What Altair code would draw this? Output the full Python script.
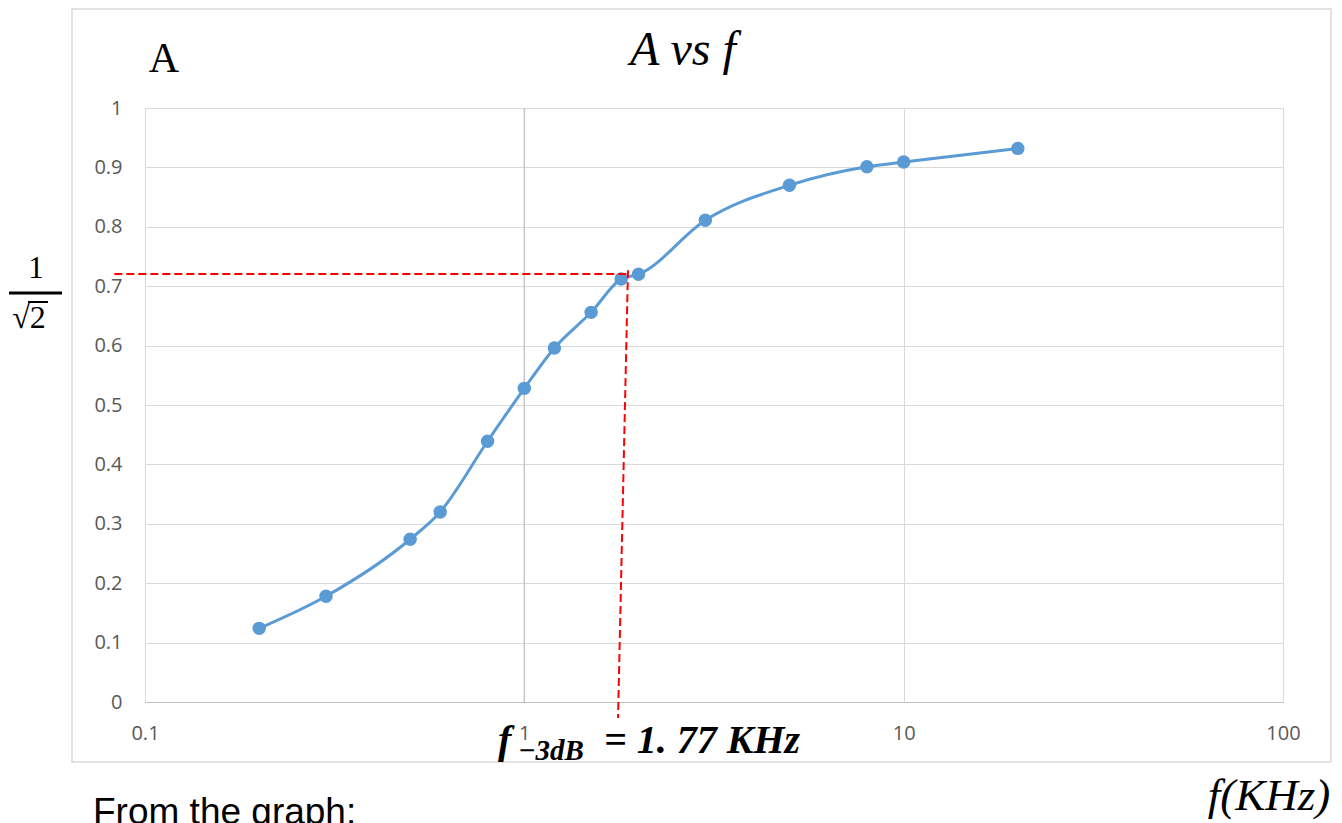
import altair as alt
import pandas as pd

# ---- data ----
freq_khz = [0.2, 0.3, 0.5, 0.6, 0.8, 1.0, 1.2, 1.5, 1.8, 2.0, 3.0, 5.0, 8.0, 10.0, 20.0]
gain = [0.124, 0.178, 0.274, 0.320, 0.439, 0.528, 0.596, 0.656, 0.712, 0.720, 0.811, 0.870, 0.901, 0.909, 0.932]

x_ticks = [0.1, 1, 10, 100]
y_ticks = [0, 0.1, 0.2, 0.3, 0.4, 0.5, 0.6, 0.7, 0.8, 0.9, 1]

# red dashed construction lines (f in kHz, A)
guide_h_f = [0.083, 1.876]
guide_h_a = [0.7205, 0.7205]
guide_v_f = [1.876, 1.766]
guide_v_a = [0.727, -0.027]

emphasised_f = [1.0]

curve = pd.DataFrame({"f": freq_khz, "A": gain})
hline = pd.DataFrame({"f": guide_h_f, "A": guide_h_a, "i": [0, 1]})
vline = pd.DataFrame({"f": guide_v_f, "A": guide_v_a, "i": [0, 1]})
emph = pd.DataFrame({"f": emphasised_f})

BLUE = "#5B9BD5"
RED = "#FF0000"
SERIF = "Liberation Serif"

xscale = alt.Scale(type="log", domain=[0.1, 100], nice=False)
yscale = alt.Scale(domain=[0, 1], nice=False, zero=False)

xax = alt.Axis(values=x_ticks, format="~g", grid=True, gridColor="#D9D9D9",
               domainColor="#BFBFBF", ticks=False, tickSize=0, labelFont="Open Sans",
               labelFontSize=20, labelColor="#595959", labelPadding=31,
               labelBaseline="middle", labelFlush=False, title=None)
yax = alt.Axis(values=y_ticks, format="~g", grid=True, gridColor="#D9D9D9",
               domainColor="#D9D9D9", ticks=False, tickSize=0, labelFont="Open Sans",
               labelFontSize=20, labelColor="#595959", labelPadding=23,
               labelFlush=False, title=None)

one = lambda s: pd.DataFrame({"label": [s]})

border = alt.Chart(one("")).mark_rect(filled=False, stroke="#D9D9D9", strokeWidth=1.5).encode(
    x=alt.value(-73), x2=alt.value(1186), y=alt.value(-99), y2=alt.value(654))

emph_rule = alt.Chart(emph).mark_rule(color="#C6C6C6", strokeWidth=1.5).encode(
    x=alt.X("f:Q", scale=xscale, axis=xax))

line = alt.Chart(curve).mark_line(color=BLUE, strokeWidth=3, interpolate="monotone").encode(
    x=alt.X("f:Q", scale=xscale, axis=xax),
    y=alt.Y("A:Q", scale=yscale, axis=yax))

pts = alt.Chart(curve).mark_circle(color=BLUE, opacity=1, size=180).encode(
    x=alt.X("f:Q", scale=xscale),
    y=alt.Y("A:Q", scale=yscale))

h_guide = alt.Chart(hline).mark_line(color=RED, strokeWidth=2, strokeDash=[8, 4]).encode(
    x=alt.X("f:Q", scale=xscale), y=alt.Y("A:Q", scale=yscale), order="i:Q")
v_guide = alt.Chart(vline).mark_line(color=RED, strokeWidth=2, strokeDash=[8, 4]).encode(
    x=alt.X("f:Q", scale=xscale), y=alt.Y("A:Q", scale=yscale), order="i:Q")

def label(text, x, y, size, font=SERIF, style="normal", weight="normal", align="center", color="black"):
    return alt.Chart(one(text)).mark_text(
        font=font, fontSize=size, fontStyle=style, fontWeight=weight,
        align=align, baseline="alphabetic", color=color).encode(
        x=alt.value(x), y=alt.value(y), text="label:N")

texts = [
    label("A", 19, -36, 42),
    label("A vs f", 538, -43, 48, style="italic"),
    label("1", -109, 170, 31),
    label("√2", -116, 220, 32),
    label("f", 353, 645, 40, style="italic", weight="bold", align="left"),
    label("−3dB", 373, 652, 29, style="italic", weight="bold", align="left"),
    label("= 1. 77 KHz", 459, 645, 40, style="italic", weight="bold", align="left"),
    label("f(KHz)", 1124, 702, 45, style="italic"),
    label("From the graph:", -52, 716, 37, font="Liberation Sans", align="left"),
]

frac_bar = alt.Chart(one("")).mark_rule(color="black", strokeWidth=3).encode(
    x=alt.value(-136), x2=alt.value(-83), y=alt.value(185))
sqrt_bar = alt.Chart(one("")).mark_rule(color="black", strokeWidth=2).encode(
    x=alt.value(-117), x2=alt.value(-97), y=alt.value(194))

chart = alt.layer(
    border, emph_rule, line, pts, h_guide, v_guide, frac_bar, sqrt_bar, *texts
).properties(
    width=1138, height=594,
    padding={"left": 137, "top": 100, "right": 51, "bottom": 121},
    autosize=alt.AutoSizeParams(type="none"),
).configure_view(stroke="#D9D9D9").configure(background="white")

chart.save("out.html", embed_options={"renderer": "svg", "actions": False})
